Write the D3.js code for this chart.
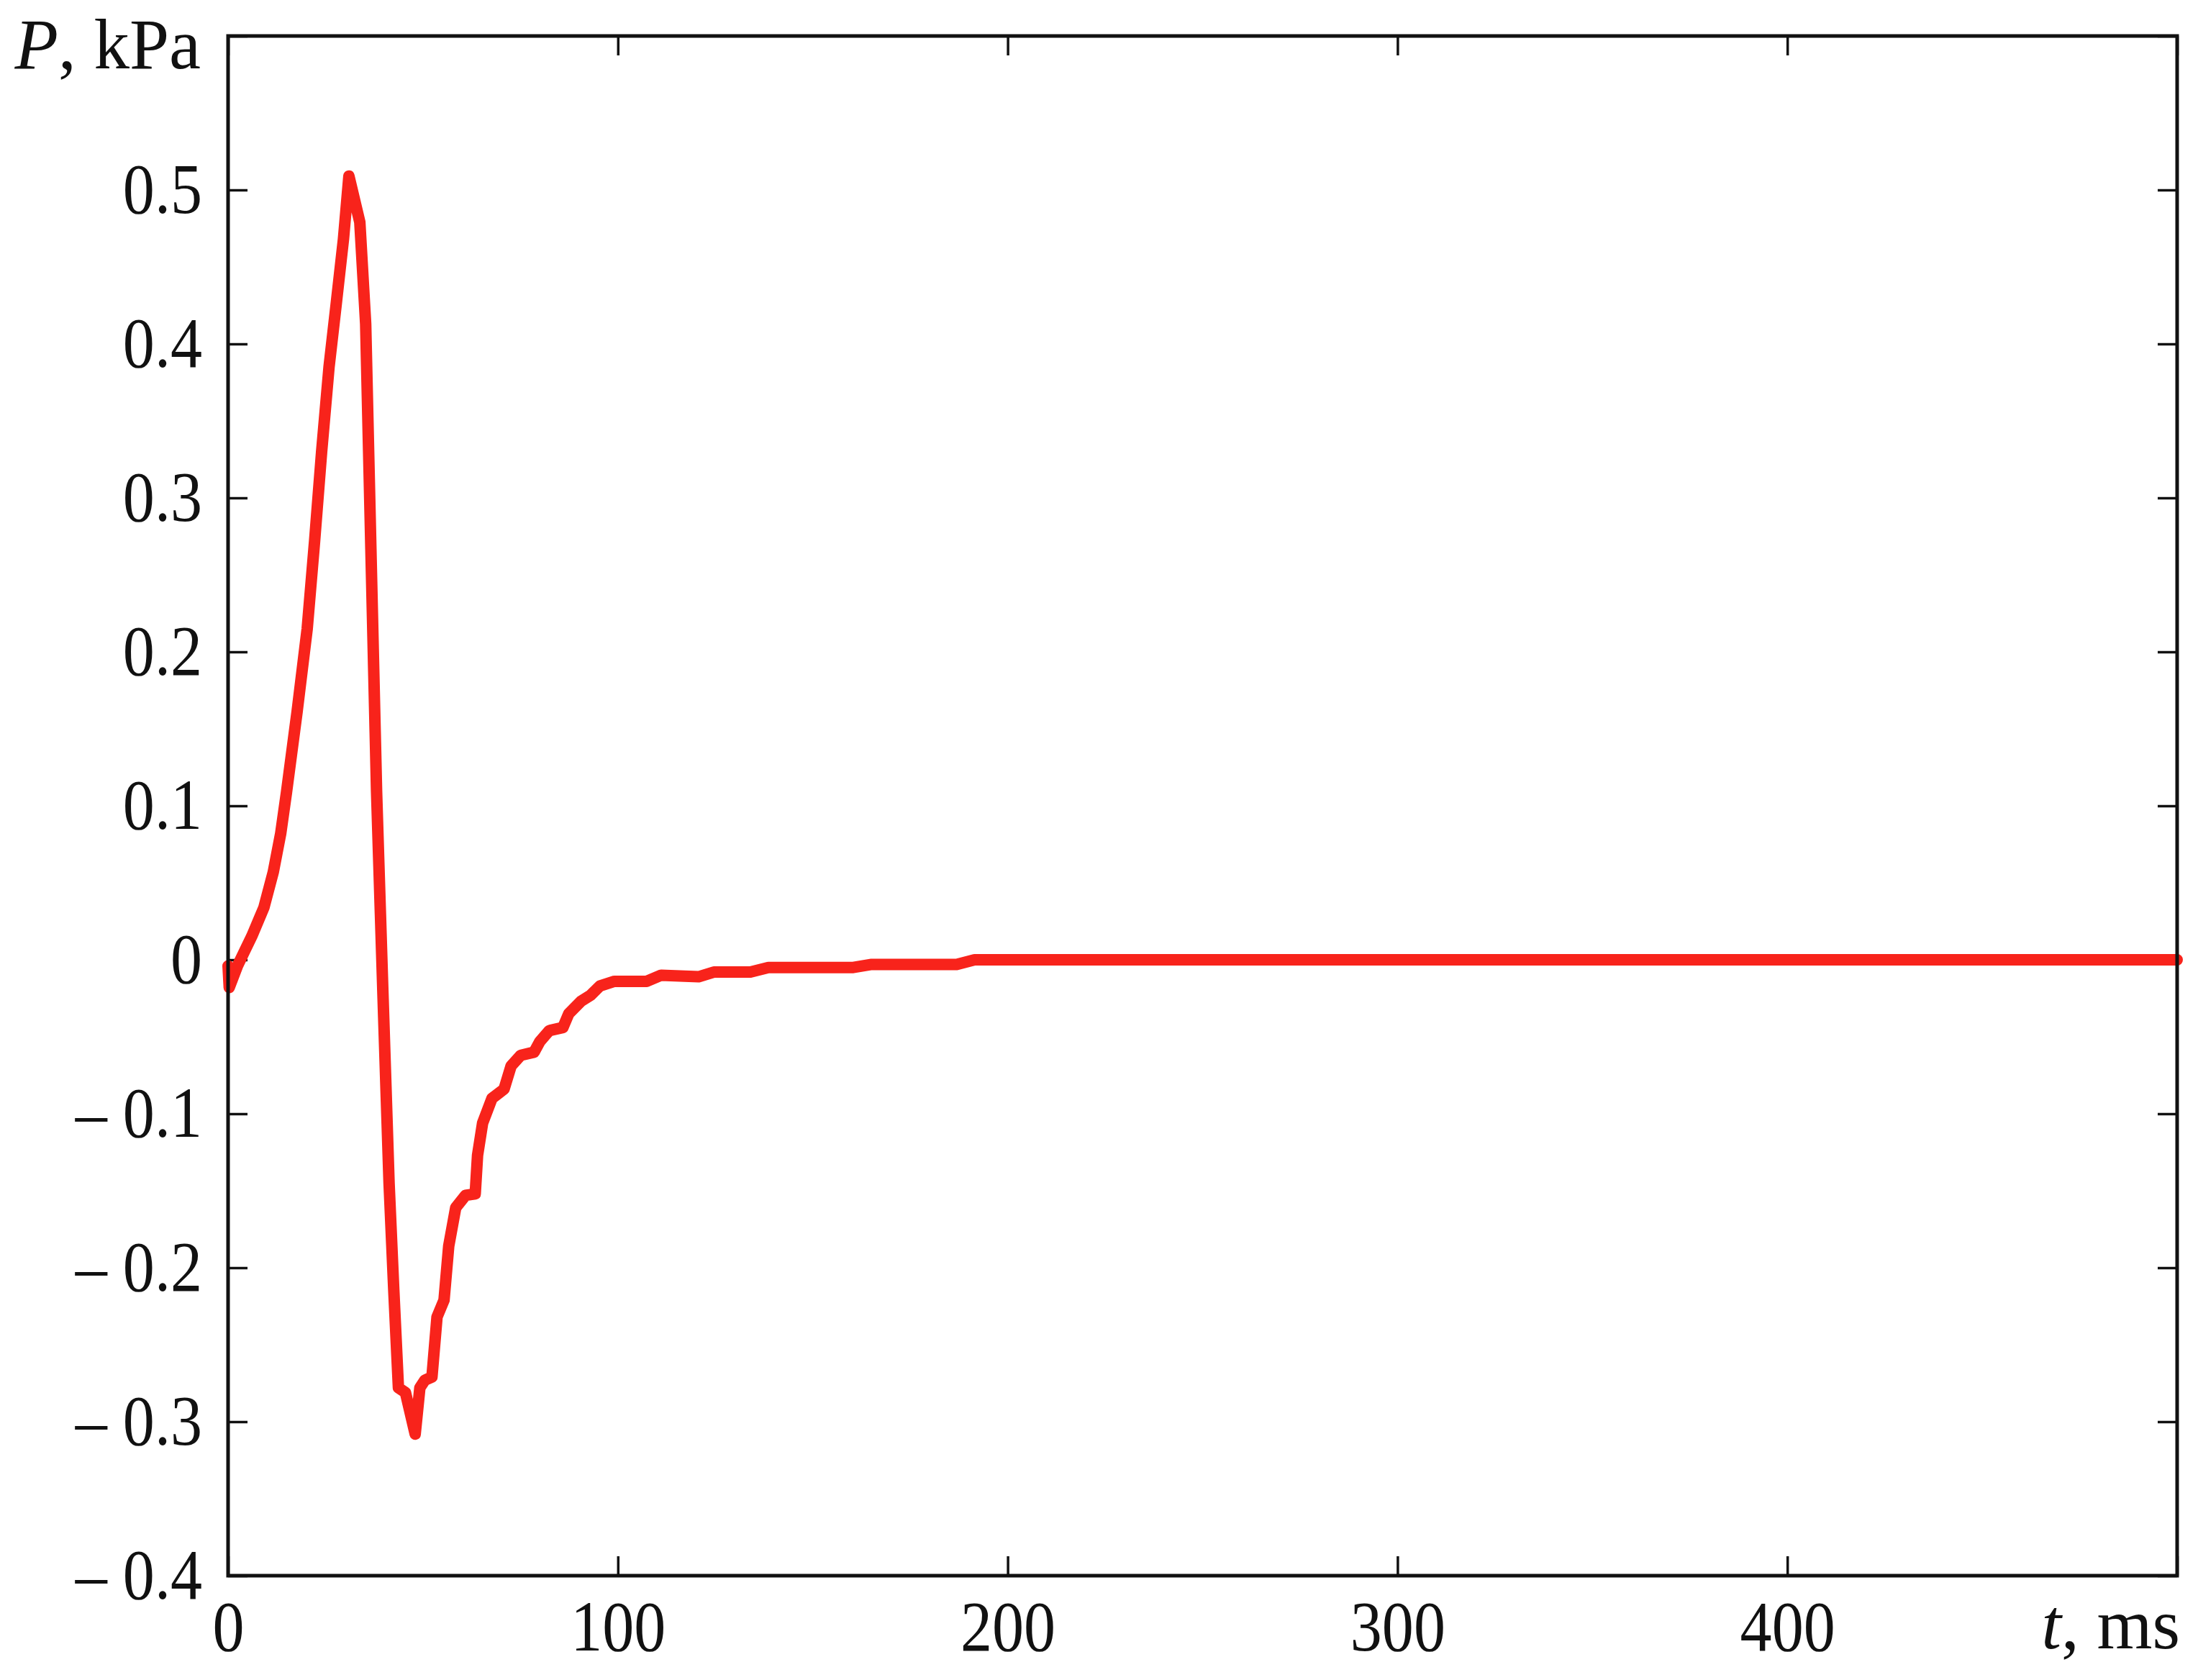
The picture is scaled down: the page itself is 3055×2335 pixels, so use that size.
<!DOCTYPE html>
<html>
<head>
<meta charset="utf-8">
<script src="https://cdn.jsdelivr.net/npm/d3@7"></script>
<style>
	html, body { margin: 0; padding: 0; background: #fff; }
	svg { display: block; }
	text { font-family: "Liberation Serif", "Times New Roman", serif; fill: #111; }
</style>
</head>
<body>
<div id="chart"></div>
<script>
const WIDTH = 3055;
const HEIGHT = 2335;
const MARGIN = { left: 317, right: 29, top: 50, bottom: 145 };

// t, ms
const tValues = [0, 0.3, 2.4, 6.1, 9.2, 11.6, 13.5, 15.0, 17.7, 20.3, 22.2, 24.0, 25.9, 27.7, 29.6, 31.0,
	33.8, 35.3, 36.7, 38.1, 39.7, 41.3, 42.5, 43.7, 45.5, 48.0, 49.2, 50.5, 52.3, 53.6, 55.4, 56.6, 58.4,
	60.9, 63.4, 64.0, 65.3, 67.7, 70.8, 72.6, 75.1, 78.5, 80.0, 82.4, 85.9, 87.4, 90.5, 93.0, 95.4,
	99.1, 107.4, 111.1, 120.7, 124.6, 134.0, 138.6, 160.4, 165.1, 186.9, 191.5, 500];
// P, kPa
const pValues = [-0.004, -0.018, -0.004, 0.0154, 0.034, 0.057, 0.082, 0.109, 0.161, 0.215, 0.272, 0.33, 0.385, 0.425, 0.468, 0.509,
	0.479, 0.413, 0.26, 0.109, -0.02, -0.145, -0.214, -0.278, -0.281, -0.308, -0.278, -0.273, -0.271, -0.232, -0.221, -0.186, -0.161,
	-0.153, -0.152, -0.127, -0.106, -0.090, -0.084, -0.069, -0.062, -0.060, -0.053, -0.046, -0.044, -0.035, -0.027, -0.023, -0.017,
	-0.014, -0.014, -0.010, -0.011, -0.008, -0.008, -0.005, -0.005, -0.003, -0.003, 0.0, 0.0];

const xTicks = [0, 100, 200, 300, 400, 500];
const yTicks = [-0.4, -0.3, -0.2, -0.1, 0, 0.1, 0.2, 0.3, 0.4, 0.5, 0.6];
const yLabels = ['– 0.4', '– 0.3', '– 0.2', '– 0.1', '0', '0.1', '0.2', '0.3', '0.4', '0.5', ''];
const xLabels = ['0', '100', '200', '300', '400', ''];

const data = tValues.map((t, i) => ({ t: t, p: pValues[i] }));

const x = d3.scaleLinear().domain([0, 500]).range([MARGIN.left, WIDTH - MARGIN.right]);
const y = d3.scaleLinear().domain([-0.4, 0.6]).range([HEIGHT - MARGIN.bottom, MARGIN.top]);

const svg = d3.select('#chart')
	.append('svg')
		.attr('width', WIDTH)
		.attr('height', HEIGHT)
		.attr('style', 'background-color: #fff');

const TICK = 27;
const FONT = 99;
const SQUEEZE = 0.89; // tick labels are a narrow Times

// bottom axis, labelled
svg.append('g')
	.attr('class', 'axis')
	.attr('transform', `translate(0,${y(-0.4)})`)
	.call(d3.axisBottom(x).tickValues(xTicks).tickSize(-TICK).tickPadding(34)
		.tickFormat((d, i) => xLabels[i]));

// top axis, ticks only
svg.append('g')
	.attr('transform', `translate(0,${y(0.6)})`)
	.call(d3.axisTop(x).tickValues(xTicks).tickSize(-TICK).tickFormat(''));

// left axis, labelled
svg.append('g')
	.attr('class', 'axis')
	.attr('transform', `translate(${x(0)},0)`)
	.call(d3.axisLeft(y).tickValues(yTicks).tickSize(-TICK).tickPadding(36)
		.tickFormat((d, i) => yLabels[i]));

// right axis, ticks only
svg.append('g')
	.attr('transform', `translate(${x(500)},0)`)
	.call(d3.axisRight(y).tickValues(yTicks).tickSize(-TICK).tickFormat(''));

svg.selectAll('.domain').remove();
svg.selectAll('.tick line')
	.attr('stroke', '#111')
	.attr('stroke-width', 3.5);
svg.selectAll('.axis .tick text')
	.attr('font-family', '"Liberation Serif", "Times New Roman", serif')
	.attr('font-size', FONT)
	.attr('fill', '#111')
	.each(function() {
		const t = d3.select(this);
		const tx = +t.attr('x') || 0;
		const ty = +t.attr('y') || 0;
		t.attr('x', 0).attr('y', 0)
			.attr('transform', `translate(${tx},${ty}) scale(${SQUEEZE},1)`);
	});

// curve
const line = d3.line()
	.x(d => x(d.t))
	.y(d => y(d.p));

svg.append('path')
	.datum(data)
	.attr('fill', 'none')
	.attr('stroke', '#f8231b')
	.attr('stroke-width', 16)
	.attr('stroke-linejoin', 'round')
	.attr('stroke-linecap', 'round')
	.attr('d', line);

// frame
svg.append('rect')
	.attr('x', x(0))
	.attr('y', y(0.6))
	.attr('width', x(500) - x(0))
	.attr('height', y(-0.4) - y(0.6))
	.attr('fill', 'none')
	.attr('stroke', '#111')
	.attr('stroke-width', 5);

// axis titles
const yTitle = svg.append('text')
	.attr('x', 279)
	.attr('y', 95)
	.attr('text-anchor', 'end')
	.attr('font-size', FONT);
yTitle.append('tspan').attr('font-style', 'italic').text('P');
yTitle.append('tspan').text(', kPa');

const xTitle = svg.append('text')
	.attr('x', 3030)
	.attr('y', 2291)
	.attr('text-anchor', 'end')
	.attr('font-size', FONT);
xTitle.append('tspan').attr('font-style', 'italic').text('t');
xTitle.append('tspan').text(', ms');
</script>
</body>
</html>
